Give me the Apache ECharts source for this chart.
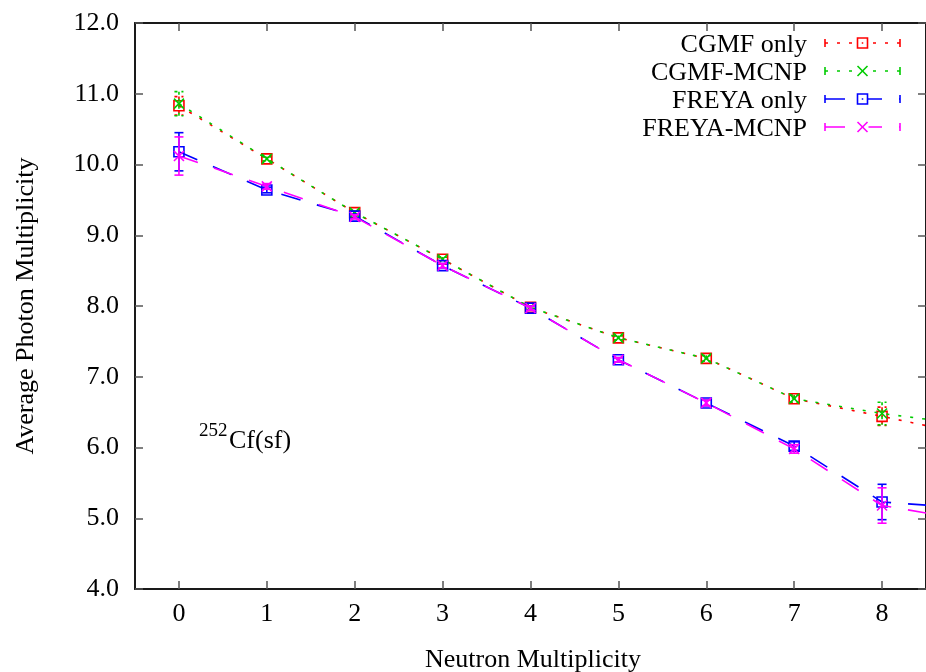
<!DOCTYPE html>
<html><head><meta charset="utf-8">
<script src="https://cdn.jsdelivr.net/npm/echarts@6/dist/echarts.min.js"></script>
<style>html,body{margin:0;padding:0;background:#fff}#c{width:926px;height:672px}</style>
</head><body><div id="c"></div>
<script>
const neutronMult = [0, 1, 2, 3, 4, 5, 6, 7, 8, 9];
const cgmfOnly     = [10.83, 10.08, 9.32, 8.66, 7.98, 7.55, 7.26, 6.69, 6.44, 6.18];
const cgmfOnlyErr  = [0.13, 0.03, 0.03, 0.03, 0.03, 0.03, 0.04, 0.05, 0.13, 0.30];
const cgmfMcnp     = [10.86, 10.08, 9.32, 8.66, 7.98, 7.55, 7.26, 6.69, 6.48, 6.32];
const cgmfMcnpErr  = [0.17, 0.03, 0.03, 0.03, 0.03, 0.03, 0.04, 0.05, 0.16, 0.30];
const freyaOnly    = [10.18, 9.64, 9.27, 8.57, 7.97, 7.24, 6.63, 6.02, 5.23, 5.14];
const freyaOnlyErr = [0.27, 0.04, 0.03, 0.03, 0.03, 0.03, 0.04, 0.06, 0.25, 0.40];
const freyaMcnp    = [10.12, 9.69, 9.26, 8.57, 7.97, 7.24, 6.63, 5.98, 5.18, 4.97];
const freyaMcnpErr = [0.27, 0.04, 0.03, 0.03, 0.03, 0.03, 0.04, 0.06, 0.25, 0.40];
const xTicks = [0, 1, 2, 3, 4, 5, 6, 7, 8];
const seriesNames = ['CGMF only', 'CGMF-MCNP', 'FREYA only', 'FREYA-MCNP'];

const FONT = 'Liberation Serif';
const colors = ['#ff0000', '#00cc00', '#0000ff', '#ff00ff'];
const dashes = [[3, 9], [3, 9], [20, 17], [20, 17]];
const SQ = 'path://M0,0H10V10H0Z';
const XX = 'path://M0,0L10,10M10,0L0,10';
const symbols = [SQ, XX, SQ, XX];
const vals = [cgmfOnly, cgmfMcnp, freyaOnly, freyaMcnp];
const errs = [cgmfOnlyErr, cgmfMcnpErr, freyaOnlyErr, freyaMcnpErr];

const chart = echarts.init(document.getElementById('c'), null, {renderer: 'canvas'});

const series = [];
vals.forEach((v, k) => {
  series.push({
    type: 'line', name: seriesNames[k],
    data: neutronMult.map((x, i) => [x, v[i]]),
    symbol: symbols[k], symbolSize: 10,
    itemStyle: {color: 'rgba(0,0,0,0)', borderColor: colors[k], borderWidth: 1.6},
    lineStyle: {color: colors[k], width: 1.6, type: dashes[k]},
    clip: true, z: 3 + k, animation: false
  });
  series.push({
    type: 'custom', name: seriesNames[k] + ' err',
    data: neutronMult.map((x, i) => [x, v[i], errs[k][i]]),
    encode: {x: 0, y: 1}, clip: true, z: 3 + k,
    renderItem: (params, api) => {
      const x = api.value(0), y = api.value(1), e = api.value(2);
      const t = api.coord([x, y + e]), b = api.coord([x, y - e]);
      const hw = 4.5;
      const st = {stroke: colors[k], lineWidth: 1.6, lineDash: k < 2 ? [3, 4] : null};
      return {type: 'group', children: [
        {type: 'line', shape: {x1: t[0], y1: t[1], x2: b[0], y2: b[1]}, style: st},
        {type: 'line', shape: {x1: t[0] - hw, y1: t[1], x2: t[0] + hw, y2: t[1]}, style: st},
        {type: 'line', shape: {x1: b[0] - hw, y1: b[1], x2: b[0] + hw, y2: b[1]}, style: st}
      ]};
    },
    animation: false
  });
});

// legend drawn like gnuplot key
const graphic = [];
const lx1 = 825, lx2 = 900, lxm = 862.5;
seriesNames.forEach((n, k) => {
  const y = 43 + 28 * k;
  graphic.push({type: 'text', x: 807, y: y + 2, style: {text: n, font: '26px "' + FONT + '"', fill: '#000', textAlign: 'right', textVerticalAlign: 'middle'}});
  const st = {stroke: colors[k], lineWidth: 1.6, lineDash: dashes[k]};
  graphic.push({type: 'line', shape: {x1: lx1, y1: y, x2: lx2, y2: y}, style: st});
  graphic.push({type: 'line', shape: {x1: lx1, y1: y - 4, x2: lx1, y2: y + 4}, style: {stroke: colors[k], lineWidth: 1.6}});
  graphic.push({type: 'line', shape: {x1: lx2, y1: y - 4, x2: lx2, y2: y + 4}, style: {stroke: colors[k], lineWidth: 1.6}});
  if (k === 0 || k === 2) {
    graphic.push({type: 'rect', shape: {x: lxm - 5, y: y - 5, width: 10, height: 10}, style: {fill: '#fff', stroke: colors[k], lineWidth: 1.6}});
    graphic.push({type: 'rect', shape: {x: lxm - 0.75, y: y - 0.75, width: 1.5, height: 1.5}, style: {fill: colors[k]}});
  } else {
    graphic.push({type: 'rect', shape: {x: lxm - 6, y: y - 5, width: 12, height: 10}, style: {fill: '#fff'}});
    graphic.push({type: 'line', shape: {x1: lxm - 5, y1: y - 5, x2: lxm + 5, y2: y + 5}, style: {stroke: colors[k], lineWidth: 1.6}});
    graphic.push({type: 'line', shape: {x1: lxm + 5, y1: y - 5, x2: lxm - 5, y2: y + 5}, style: {stroke: colors[k], lineWidth: 1.6}});
  }
});
graphic.push({type: 'text', x: 533, y: 660, style: {text: 'Neutron Multiplicity', font: '26px "' + FONT + '"', fill: '#000', textAlign: 'center', textVerticalAlign: 'middle'}});
graphic.push({type: 'text', x: 26, y: 306, rotation: Math.PI / 2, style: {text: 'Average Photon Multiplicity', font: '26px "' + FONT + '"', fill: '#000', textAlign: 'center', textVerticalAlign: 'middle'}});
graphic.push({type: 'text', x: 199, y: 431, style: {text: '252', font: '19px "' + FONT + '"', fill: '#000', textAlign: 'left', textVerticalAlign: 'middle'}});
graphic.push({type: 'text', x: 229, y: 441, style: {text: 'Cf(sf)', font: '26px "' + FONT + '"', fill: '#000', textAlign: 'left', textVerticalAlign: 'middle'}});

const axisLineStyle = {color: '#1a1a1a', width: 2};
const tickStyle = {color: '#555', width: 1.5};
const baseX = {
  type: 'value', min: -0.5, max: 8.5,
  splitLine: {show: false},
  axisLine: {show: true, onZero: false, lineStyle: axisLineStyle},
  axisTick: {show: true, inside: true, length: 8, lineStyle: tickStyle, customValues: xTicks},
};
const baseY = {
  type: 'value', min: 4, max: 12, interval: 1,
  splitLine: {show: false},
  axisLine: {show: true, onZero: false, lineStyle: axisLineStyle},
  axisTick: {show: true, inside: true, length: 8, lineStyle: tickStyle},
};

chart.setOption({
  animation: false,
  backgroundColor: '#fff',
  grid: {left: 135, top: 23, width: 797, height: 566, containLabel: false},
  xAxis: [
    Object.assign({}, baseX, {position: 'bottom', axisLabel: {customValues: xTicks, margin: 12, fontFamily: FONT, fontSize: 26, color: '#000'}}),
    Object.assign({}, baseX, {position: 'top', axisLabel: {show: false}})
  ],
  yAxis: [
    Object.assign({}, baseY, {position: 'left', axisLabel: {margin: 16, fontFamily: FONT, fontSize: 26, color: '#000', formatter: v => v.toFixed(1)}}),
    Object.assign({}, baseY, {position: 'right', axisLabel: {show: false}})
  ],
  series: series,
  graphic: graphic
});
</script>
</body></html>
